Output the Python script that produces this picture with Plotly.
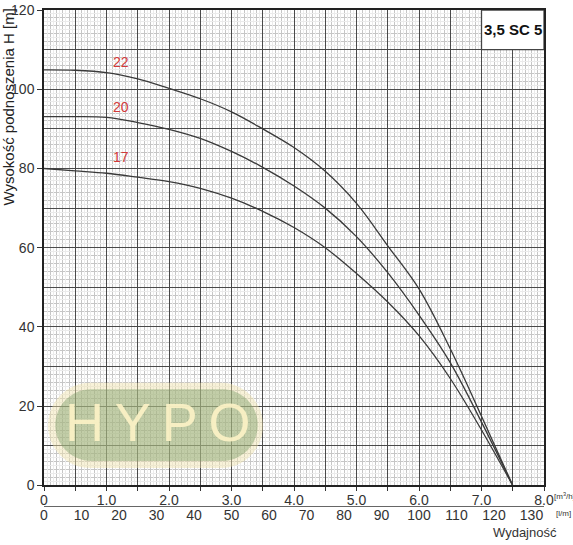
import plotly.graph_objects as go

# ---- data ----
flow_m3h = [0, 0.5, 1.0, 1.5, 2.0, 2.5, 3.0, 3.5, 4.0, 4.5, 5.0, 5.5, 6.0, 6.5, 7.0, 7.5]
head_22 = [104.9, 104.8, 104.2, 102.6, 100.2, 97.6, 94.3, 90.0, 85.3, 79.3, 71.2, 60.5, 49.6, 34.5, 17.5, 0.0]
head_20 = [93.1, 93.1, 92.9, 91.6, 89.9, 87.6, 84.3, 80.3, 75.6, 70.0, 62.8, 53.7, 43.0, 31.0, 16.0, 0.0]
head_17 = [80.0, 79.4, 78.8, 77.8, 76.7, 75.0, 72.5, 69.2, 65.1, 60.0, 53.5, 46.3, 37.8, 27.0, 14.0, 0.0]
curve_names = ["22", "20", "17"]

x_tickvals = [0, 0.5, 1, 1.5, 2, 2.5, 3, 3.5, 4, 4.5, 5, 5.5, 6, 6.5, 7, 7.5, 8]
x_ticktext = ["0", " ", "1.0", " ", "2.0", " ", "3.0", " ", "4.0", " ", "5.0", " ", "6.0", " ", "7.0", " ", "8.0"]
lpm_ticks = [0, 10, 20, 30, 40, 50, 60, 70, 80, 90, 100, 110, 120, 130]
y_tickvals = [0, 20, 40, 60, 80, 100, 120]
model_name = "3,5 SC 5"
y_title = "Wysokość podnoszenia H [m]"
x_title = "Wydajność"
unit_m3h = "[m<sup>3</sup>/h]"
unit_lpm = "[l/m]"
logo_text = "H\u2009Y\u2009P\u2009O"

FONT = "Liberation Sans Narrow, Arial Narrow, Liberation Sans, Arial, sans-serif"
X_MAX = 8.0
Y_MAX = 120
Y_DOM0 = 0.0856

# grid helper values (grid only)
x_major = [i * 0.5 for i in range(17)]
x_fine = [round(i * 0.1, 2) for i in range(81) if i % 5 != 0]
x_finest = [round(i * 0.05, 3) for i in range(161) if i % 2 == 1]
y_major = [i for i in range(0, 121, 10)]
y_fine = [i for i in range(0, 121, 2) if i % 10 != 0]
y_finest = [i for i in range(1, 120, 2)]

fig = go.Figure()
for name, h in zip(curve_names, [head_22, head_20, head_17]):
    fig.add_trace(go.Scatter(
        x=flow_m3h, y=h, mode="lines", name=name,
        line=dict(color="#3a3a3a", width=1.3, shape="spline", smoothing=1.0),
        showlegend=False, hoverinfo="skip"))

# empty traces to bind overlay axes
for xa, ya in [("x2", "y"), ("x3", "y"), ("x", "y3"), ("x4", "y4")]:
    fig.add_trace(go.Scatter(x=[None], y=[None], xaxis=xa, yaxis=ya,
                             showlegend=False, hoverinfo="skip", mode="lines"))

tickfont = dict(family=FONT, size=14, color="#333")

fig.update_layout(
    width=573, height=545,
    margin=dict(l=44, r=29, t=10, b=15, autoexpand=False),
    paper_bgcolor="white", plot_bgcolor="white",
    showlegend=False,
    xaxis=dict(
        range=[0, X_MAX], domain=[0, 1], anchor="y", automargin=False,
        tickmode="array", tickvals=x_tickvals, ticktext=x_ticktext,
        ticks="outside", ticklen=4, tickcolor="#333", tickwidth=1,
        ticklabelstandoff=-3,
        showgrid=False, zeroline=False,
        showline=True, linecolor="#222", linewidth=1.5, mirror=True,
        tickfont=tickfont),
    yaxis=dict(
        range=[0, Y_MAX], domain=[Y_DOM0, 1], anchor="x", automargin=False,
        tickmode="array", tickvals=y_tickvals,
        ticks="outside", ticklen=5, tickcolor="#333",
        showgrid=False, zeroline=False,
        showline=True, linecolor="#222", linewidth=1.5, mirror=True,
        tickfont=tickfont),
    xaxis2=dict(
        overlaying="x", anchor="free", position=0.0462, automargin=False,
        range=[0, X_MAX * 1000 / 60], tickmode="array", tickvals=lpm_ticks,
        ticks="", ticklabelstandoff=-4, showgrid=False, zeroline=False,
        showline=True, linecolor="#666", linewidth=1.2, tickfont=tickfont),
    xaxis3=dict(
        overlaying="x", anchor="y", range=[0, X_MAX], automargin=False,
        tickmode="array", tickvals=x_finest, showticklabels=False, ticks="",
        showgrid=True, gridcolor="#ebebeb", gridwidth=1,
        minor=dict(tickmode="array", tickvals=x_fine, showgrid=True,
                   gridcolor="#c6c6c6", gridwidth=1, ticks=""),
        zeroline=False, showline=False),
    yaxis3=dict(
        overlaying="y", anchor="x", range=[0, Y_MAX], automargin=False,
        tickmode="array", tickvals=y_finest, showticklabels=False, ticks="",
        showgrid=True, gridcolor="#ebebeb", gridwidth=1,
        minor=dict(tickmode="array", tickvals=y_fine, showgrid=True,
                   gridcolor="#c6c6c6", gridwidth=1, ticks=""),
        zeroline=False, showline=False),
    xaxis4=dict(overlaying="x", anchor="y4", range=[0, X_MAX], automargin=False,
                tickmode="array", tickvals=x_major, showticklabels=False, ticks="",
                showgrid=True, gridcolor="#4a4a4a", gridwidth=1.2, zeroline=False, showline=False),
    yaxis4=dict(overlaying="y", anchor="x4", range=[0, Y_MAX], automargin=False,
                tickmode="array", tickvals=y_major, showticklabels=False, ticks="",
                showgrid=True, gridcolor="#4a4a4a", gridwidth=1.2, zeroline=False, showline=False),
)


def pill(x0, x1, y0, y1, rx):
    ry = (y1 - y0) / 2.0
    yc = (y0 + y1) / 2.0
    k = 0.5523
    return (f"M {x0+rx},{y0} L {x1-rx},{y0} "
            f"C {x1-rx+k*rx},{y0} {x1},{yc-k*ry} {x1},{yc} "
            f"C {x1},{yc+k*ry} {x1-rx+k*rx},{y1} {x1-rx},{y1} "
            f"L {x0+rx},{y1} "
            f"C {x0+rx-k*rx},{y1} {x0},{yc+k*ry} {x0},{yc} "
            f"C {x0},{yc-k*ry} {x0+rx-k*rx},{y0} {x0+rx},{y0} Z")


fig.add_shape(type="path", path=pill(0.064, 3.504, 4.4, 25.9, 0.68),
              xref="x", yref="y", fillcolor="rgba(240,226,170,0.45)",
              line=dict(width=0), layer="above")
fig.add_shape(type="path", path=pill(0.18, 3.42, 6.2, 24.3, 0.576),
              xref="x", yref="y", fillcolor="rgba(120,155,100,0.42)",
              line=dict(width=0), layer="above")

# model box
fig.add_shape(type="rect", x0=7.0, x1=8.0, y0=110, y1=120, xref="x", yref="y",
              fillcolor="white", line=dict(color="#444", width=1.3), layer="above")

ann = []
ann.append(dict(text=logo_text, x=1.82, y=15.9, xref="x", yref="y", showarrow=False,
                xanchor="center", yanchor="middle",
                font=dict(family="Liberation Sans, Arial, sans-serif", size=54,
                          color="rgba(252,242,198,0.92)")))
ann.append(dict(text=f"<b>{model_name}</b>", x=7.5, y=115, xref="x", yref="y", showarrow=False,
                xanchor="center", yanchor="middle",
                font=dict(family=FONT, size=15, color="#111")))
for name, yy in zip(curve_names, [106.9, 95.5, 82.9]):
    ann.append(dict(text=name, x=1.23, y=yy, xref="x", yref="y", showarrow=False,
                    xanchor="center", yanchor="middle",
                    font=dict(family=FONT, size=14, color="#d23a3a")))
ann.append(dict(text=y_title, x=-0.071, y=95.5, xref="paper", yref="y", textangle=-90,
                xanchor="center", yanchor="middle",
                showarrow=False, font=dict(family=FONT, size=15, color="#222")))
ann.append(dict(text=unit_m3h, x=1.015, y=0.066, xref="paper", yref="paper", xanchor="left",
                yanchor="middle", showarrow=False, font=dict(family=FONT, size=8, color="#333")))
ann.append(dict(text=unit_lpm, x=1.02, y=0.031, xref="paper", yref="paper", xanchor="left",
                yanchor="middle", showarrow=False, font=dict(family=FONT, size=8, color="#333")))
ann.append(dict(text=x_title, x=0.962, y=-0.004, xref="paper", yref="paper",
                xanchor="center", yanchor="middle",
                showarrow=False, font=dict(family=FONT, size=13, color="#333")))
fig.update_layout(annotations=ann)

# remove the default page margin so the figure fills the window exactly
fig.write_html("out.html", config={"displayModeBar": False},
               post_script="document.body.style.margin='0';")
